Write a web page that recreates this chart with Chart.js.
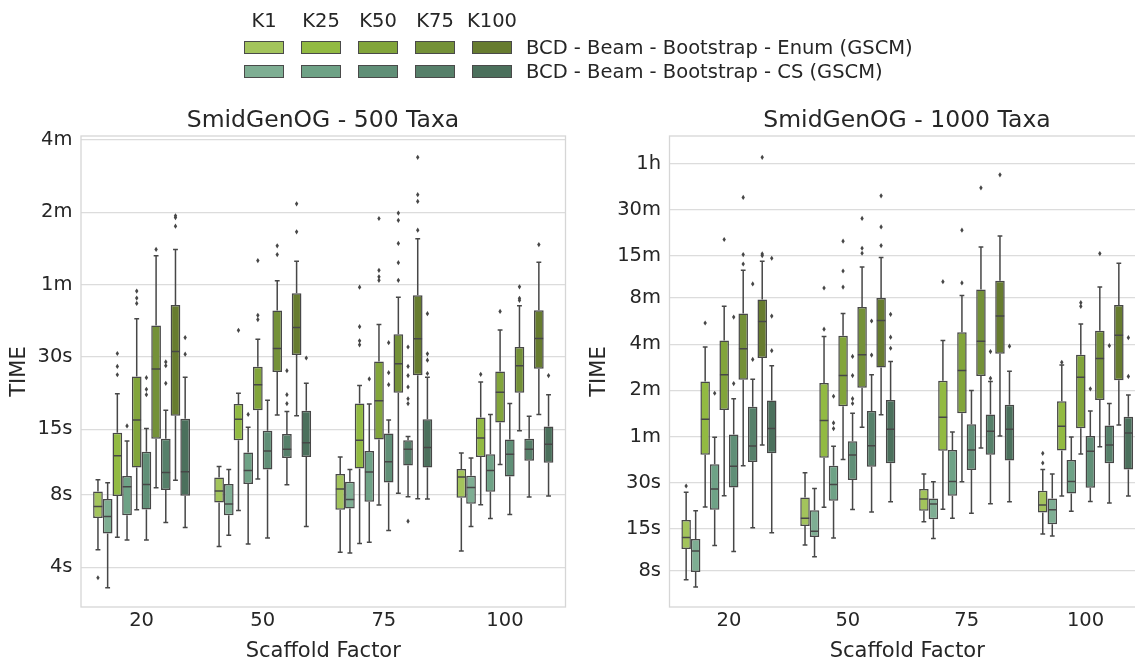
<!DOCTYPE html>
<html>
<head>
<meta charset="utf-8">
<script src="https://cdn.jsdelivr.net/npm/chart.js@4.4.1/dist/chart.umd.min.js"></script>
<style>
  body { margin: 0; width: 1135px; height: 659px; overflow: hidden; background: #fff; position: relative;
         font-family: "DejaVu Sans", sans-serif; color: #262626; }
  canvas { position: absolute; top: 0; }
  .lg { position: absolute; font-size: 19.5px; line-height: 1; white-space: nowrap; }
  .sw { position: absolute; width: 40px; height: 13px; box-sizing: border-box; border: 1px solid #4a4a4a; }
</style>
</head>
<body>
<canvas id="c500" width="580" height="659" style="left:0"></canvas>
<canvas id="c1000" width="580" height="659" style="left:580px"></canvas>
<div id="legend"></div>
<script>
const categories = ['20', '50', '75', '100'];
const kLabels = ['K1', 'K25', 'K50', 'K75', 'K100'];
const methodNames = ['BCD - Beam - Bootstrap - Enum (GSCM)', 'BCD - Beam - Bootstrap - CS (GSCM)'];
const enumColors = ['#a3c45c', '#92ba42', '#82a53b', '#749138', '#677c2f'];
const csColors = ['#7eae93', '#6ea286', '#608f77', '#56806a', '#4b705c'];
const lineColor = '#474747';
const textColor = '#262626';

// y ticks (seconds)
const ticks500 = [4, 8, 15, 30, 60, 120, 240];
const tickLabels500 = ['4s', '8s', '15s', '30s', '1m', '2m', '4m'];
const ticks1000 = [8, 15, 30, 60, 120, 240, 480, 900, 1800, 3600];
const tickLabels1000 = ['8s', '15s', '30s', '1m', '2m', '4m', '8m', '15m', '30m', '1h'];

// box stats per scaffold factor: [whisker low, q1, median, q3, whisker high] in seconds
// 500 taxa
const t500E1 = [[4.73, 6.41, 7.16, 8.27, 9.26], [4.88, 7.44, 8.31, 9.46, 10.5], [4.62, 6.94, 8.47, 9.77, 11.5], [4.68, 7.79, 9.5, 10.26, 11.95]];
const t500C1 = [[3.29, 5.53, 6.51, 7.69, 9.0], [5.44, 6.59, 7.33, 8.88, 10.2], [4.59, 7.03, 7.66, 9.08, 10.2], [5.91, 7.35, 8.6, 9.62, 11.4]];
const t500E25 = [[5.34, 7.92, 11.65, 14.5, 21.1], [6.9, 13.5, 16.5, 19.1, 21.2], [5.02, 10.3, 13.5, 19.2, 22.8], [7.28, 11.5, 13.8, 16.8, 23.6]];
const t500C25 = [[5.2, 6.59, 8.65, 9.59, 13.4], [5.0, 8.88, 10.1, 12.0, 15.3], [5.09, 7.49, 9.97, 12.2, 19.1], [6.38, 8.25, 10.1, 11.8, 17.3]];
const t500E50 = [[6.94, 10.4, 16.4, 24.9, 43.3], [9.32, 18.0, 23.0, 27.3, 35.5], [7.26, 13.6, 19.7, 28.7, 40.9], [10.7, 16.0, 21.4, 26.1, 38.8]];
const t500C50 = [[5.2, 6.96, 8.85, 12.1, 15.1], [5.3, 10.2, 12.2, 14.8, 19.8], [5.69, 9.02, 11.0, 14.4, 16.4], [6.64, 9.55, 11.8, 13.6, 19.2]];
const t500E75 = [[8.57, 13.7, 26.7, 40.5, 79], [17.2, 26.0, 32.5, 46.8, 62.3], [8.14, 21.3, 28.1, 37.3, 53.1], [14.8, 21.3, 27.6, 33.0, 49]];
const t500C75 = [[6.14, 8.38, 9.92, 13.7, 18.0], [8.82, 11.4, 12.4, 14.35, 17.8], [7.86, 10.6, 12.4, 13.5, 14.0], [7.84, 11.1, 12.4, 13.7, 17.0]];
const t500E100 = [[9.2, 17.1, 31.6, 49.3, 84], [17.1, 30.6, 39.8, 55.2, 75], [7.71, 25.2, 35.7, 54.2, 93], [17.3, 26.8, 35.8, 46.9, 74.3]];
const t500C100 = [[5.85, 7.94, 10.0, 16.6, 24.7], [5.91, 11.5, 13.2, 17.9, 23.3], [7.69, 10.4, 12.6, 16.5, 24.7], [7.92, 10.9, 13.0, 15.4, 20.9]];

const o500E1 = [[3.62], [], [], []];
const o500C1 = [[], [], [], []];
const o500E25 = [[25.3, 27.4, 31.0], [38.7], [33.7, 35.0, 40.1, 58.5], [25.4]];
const o500C25 = [[15.5], [17.3], [24.3], []];
const o500E50 = [[50.1, 52.7, 56.4], [42.9, 44.7, 75.5], [62.5, 64.6, 68.8, 113], [46.4]];
const o500C50 = [[20.9, 22.0, 24.6], [], [23.0, 25.8, 34.4], []];
const o500E75 = [[84], [80, 87], [62.5, 74, 89, 111, 119], [51.6, 52.6, 58.7]];
const o500C75 = [[23.3, 27.6, 28.6], [19.2, 20.9, 26.3], [6.22, 19.2, 20.1, 22.5, 25.1, 27.4, 33.0], []];
const o500E100 = [[105, 114, 116], [99.4, 130], [101, 133, 142, 203], [88]];
const o500C100 = [[30.8, 36.1], [29.7], [25.6, 29.1, 30.9, 45.4], [25.1]];

// 1000 taxa
const t1000E1 = [[7.0, 11.1, 13.2, 17.2, 26.0], [11.8, 15.7, 17.6, 24.1, 34.9], [16.7, 19.7, 23.5, 27.3, 34.2], [13.9, 19.2, 21.5, 26.6, 36.7]];
const t1000C1 = [[6.29, 7.88, 10.8, 12.9, 19.7], [9.88, 13.3, 14.5, 19.9, 27.6], [13.0, 17.4, 21.8, 23.7, 30.5], [13.5, 16.1, 20.0, 23.7, 34.2]];
const t1000E25 = [[20.9, 45.8, 77.8, 137, 230], [20.8, 43.7, 76.3, 134, 270], [20.2, 48.6, 80.2, 139, 254], [24.6, 48.8, 70, 102, 176]];
const t1000C25 = [[11.7, 20.0, 27.3, 39.6, 59.4], [13.1, 22.9, 29.3, 38.8, 51.9], [17.6, 24.7, 30.6, 49.1, 64.4], [19.6, 25.6, 30.6, 42.3, 59.7]];
const t1000E50 = [[24.7, 89.6, 152, 254, 425], [42.5, 94.6, 150, 273, 380], [30.5, 85.2, 162, 287, 498], [46.3, 68, 146, 205, 325]];
const t1000C50 = [[10.7, 28.0, 38.4, 62, 106], [20.1, 31.3, 45.6, 55.9, 85.2], [19.0, 36.4, 49.1, 72.2, 120], [22.7, 27.9, 48.1, 60.6, 88.3]];
const t1000E75 = [[38.8, 141, 224, 381, 728], [69, 125, 205, 419, 765], [50.6, 149, 251, 545, 1033], [51.6, 104, 194, 294, 566]];
const t1000C75 = [[15.3, 41.0, 52.2, 93.8, 142], [19.4, 38.2, 52.4, 88.3, 152], [21.9, 45.8, 65, 83.5, 137], [22.2, 40.2, 53, 70.8, 98.6]];
const t1000E100 = [[53, 195, 338, 470, 834], [83.2, 169, 343, 480, 881], [60.6, 208, 366, 623, 1218], [71.5, 140, 275, 432, 809]];
const t1000C100 = [[14.2, 46.7, 67.7, 103, 174], [22.6, 40.2, 67, 104, 185], [22.6, 41.9, 67, 96.7, 160], [24.6, 36.6, 63.4, 81, 112]];

const o1000E1 = [[28.6], [], [], [40.4, 46.7]];
const o1000C1 = [[], [], [], []];
const o1000E25 = [[330], [301, 558], [614], [183]];
const o1000C25 = [[115], [67.7, 73.7, 110], [], []];
const o1000E50 = [[1155], [566, 720, 1126], [602, 1328], [424, 448]];
const o1000C50 = [[133, 361], [98.6, 106, 150, 200], [], [123]];
const o1000E75 = [[800, 921, 2172], [940, 1013, 1584], [2510], [936]];
const o1000C75 = [[191, 593], [204, 340], [144, 215], [235]];
const o1000E100 = [[908, 931, 3966], [1055, 1396, 2225], [3050], []];
const o1000C100 = [[218, 366, 872], [226, 267, 376], [233], [148, 265]];

// legend (html)
const legend = document.getElementById('legend');
const colX = [264, 321, 378, 435, 492];
kLabels.forEach((k, i) => {
  const h = document.createElement('div');
  h.className = 'lg';
  h.textContent = k;
  h.style.left = colX[i] + 'px';
  h.style.top = '21px';
  h.style.transform = 'translate(-50%, -50%)';
  legend.appendChild(h);
  [enumColors[i], csColors[i]].forEach((c, r) => {
    const s = document.createElement('div');
    s.className = 'sw';
    s.style.left = (colX[i] - 20) + 'px';
    s.style.top = (41 + r * 24) + 'px';
    s.style.background = c;
    legend.appendChild(s);
  });
});
methodNames.forEach((m, r) => {
  const d = document.createElement('div');
  d.className = 'lg';
  d.textContent = m;
  d.style.left = '526px';
  d.style.top = (48 + r * 24) + 'px';
  d.style.transform = 'translateY(-50%)';
  legend.appendChild(d);
});

// whiskers, caps, medians, fliers, frame and the panel title
const boxPlugin = {
  id: 'boxWhiskers',
  afterDatasetsDraw(chart, args, opts) {
    const { ctx, chartArea: a, scales: { y } } = chart;
    ctx.save();
    ctx.strokeStyle = lineColor;
    ctx.fillStyle = lineColor;
    ctx.lineWidth = 1.5;
    chart.data.datasets.forEach((ds, i) => {
      chart.getDatasetMeta(i).data.forEach((bar, j) => {
        const [lo, q1, med, q3, hi] = ds.stats[j];
        const x = bar.x, hw = bar.width / 2 - 0.5, cw = bar.width / 4;
        const pLo = y.getPixelForValue(lo), pHi = y.getPixelForValue(hi);
        ctx.beginPath();
        ctx.moveTo(x, y.getPixelForValue(q3)); ctx.lineTo(x, pHi);
        ctx.moveTo(x, y.getPixelForValue(q1)); ctx.lineTo(x, pLo);
        ctx.moveTo(x - cw, pHi); ctx.lineTo(x + cw, pHi);
        ctx.moveTo(x - cw, pLo); ctx.lineTo(x + cw, pLo);
        const pm = y.getPixelForValue(med);
        ctx.moveTo(x - hw, pm); ctx.lineTo(x + hw, pm);
        ctx.stroke();
        ds.outliers[j].forEach(v => {
          const py = y.getPixelForValue(v);
          ctx.beginPath();
          ctx.moveTo(x, py - 2.6); ctx.lineTo(x + 1.7, py);
          ctx.lineTo(x, py + 2.6); ctx.lineTo(x - 1.7, py);
          ctx.closePath();
          ctx.fill();
        });
      });
    });
    ctx.strokeStyle = '#d6d6d6';
    ctx.lineWidth = 1.3;
    ctx.strokeRect(a.left, a.top, a.right - a.left, a.bottom - a.top);

    ctx.fillStyle = textColor;
    ctx.font = '23.5px "DejaVu Sans"';
    ctx.textAlign = 'center';
    ctx.textBaseline = 'middle';
    ctx.fillText(opts.title, opts.titleX, 121);
    ctx.restore();
  }
};

function makePanel(id, title, titleX, stats, outs, tickVals, tickLabels, yMin, yMax, yWidth, padRight) {
  const datasets = stats.map((s, i) => ({
    label: methodNames[i % 2] + ' ' + kLabels[i >> 1],
    data: s.map(b => [b[1], b[3]]),
    stats: s,
    outliers: outs[i],
    backgroundColor: i % 2 ? csColors[i >> 1] : enumColors[i >> 1],
    borderColor: lineColor,
    borderWidth: 1.5,
    borderSkipped: false,
    categoryPercentage: 0.8,
    barPercentage: 1.0
  }));

  return new Chart(document.getElementById(id), {
    type: 'bar',
    data: { labels: categories, datasets: datasets },
    options: {
      responsive: false,
      animation: false,
      events: [],
      layout: { padding: { left: 0, right: padRight, top: 136, bottom: 0 } },
      plugins: {
        legend: { display: false },
        tooltip: { enabled: false },
        title: { display: false },
        boxWhiskers: { title: title, titleX: titleX }
      },
      scales: {
        x: {
          afterFit: s => { s.height = 52; },
          grid: { display: false, drawTicks: false },
          border: { display: false },
          ticks: { padding: 2, color: textColor, font: { family: 'DejaVu Sans', size: 19.5 } },
          title: {
            display: true, text: 'Scaffold Factor', color: textColor,
            font: { family: 'DejaVu Sans', size: 21, lineHeight: 0.72 }, padding: 0
          }
        },
        y: {
          type: 'logarithmic',
          min: yMin,
          max: yMax,
          afterBuildTicks: s => { s.ticks = tickVals.map(v => ({ value: v })); },
          afterFit: s => { s.width = yWidth; },
          grid: { color: '#dcdcdc', lineWidth: 1.3, drawTicks: false },
          border: { display: false },
          ticks: {
            autoSkip: false, padding: 8.5, color: textColor,
            font: { family: 'DejaVu Sans', size: 19.5 },
            callback: (v, i) => tickLabels[i]
          },
          title: {
            display: true, text: 'TIME', color: textColor,
            font: { family: 'DejaVu Sans', size: 21, lineHeight: 1 },
            padding: { top: 9.5, bottom: 0 }
          }
        }
      }
    },
    plugins: [boxPlugin]
  });
}

makePanel('c500', 'SmidGenOG - 500 Taxa', 323,
  [t500E1, t500C1, t500E25, t500C25, t500E50, t500C50, t500E75, t500C75, t500E100, t500C100],
  [o500E1, o500C1, o500E25, o500C25, o500E50, o500C50, o500E75, o500C75, o500E100, o500C100],
  ticks500, tickLabels500, 2.735, 249, 81, 14.5);

makePanel('c1000', 'SmidGenOG - 1000 Taxa', 327,
  [t1000E1, t1000C1, t1000E25, t1000C25, t1000E50, t1000C50, t1000E75, t1000C75, t1000E100, t1000C100],
  [o1000E1, o1000C1, o1000E25, o1000C25, o1000E50, o1000C50, o1000E75, o1000C75, o1000E100, o1000C100],
  ticks1000, tickLabels1000, 4.655, 5460, 89.5, 15);
</script>
</body>
</html>
